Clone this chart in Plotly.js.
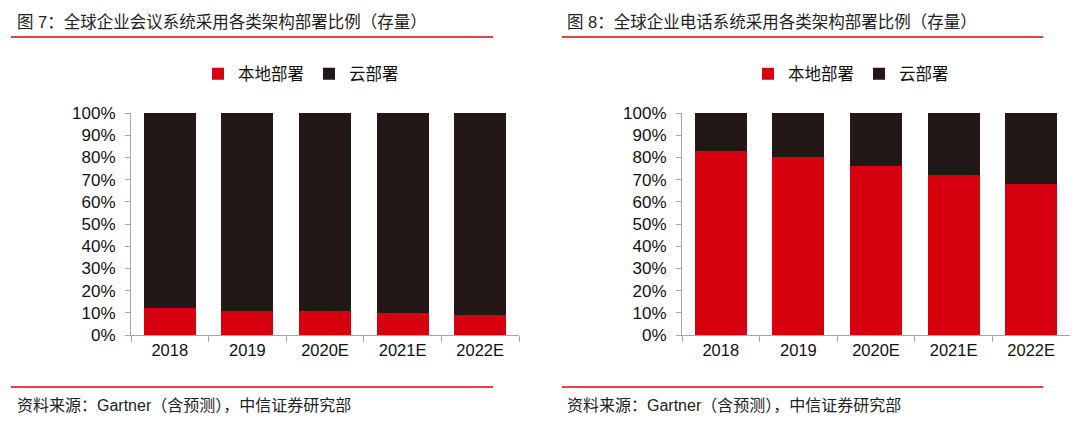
<!DOCTYPE html>
<html><head><meta charset="utf-8">
<script src="https://cdn.plot.ly/plotly-3.0.1.min.js"></script>
<style>html,body{margin:0;padding:0;background:#fff}#c{width:1080px;height:422px}</style>
</head><body><div id="c"></div>
<script>
const years = ['2018','2019','2020E','2021E','2022E'];
const confLocal = [12, 11, 11, 10, 9];
const confCloud = [88, 89, 89, 90, 91];
const phoneLocal = [83, 80, 76, 72, 68];
const phoneCloud = [17, 20, 24, 28, 32];
const seriesNames = ['本地部署', '云部署'];
const title1 = '图 7：全球企业会议系统采用各类架构部署比例（存量）';
const title2 = '图 8：全球企业电话系统采用各类架构部署比例（存量）';
const source = '资料来源：Gartner（含预测），中信证券研究部';

const RED = '#D7000F', DARK = '#231815';
const W = 1080, H = 422;
const px = v => v / W, py = v => 1 - v / H;
const cjk = '"Liberation Sans", Arial, "Noto Sans CJK SC", sans-serif';

const traces = [
  {type:'bar', x:years, y:confLocal, name:seriesNames[0], marker:{color:RED}, xaxis:'x', yaxis:'y', legend:'legend'},
  {type:'bar', x:years, y:confCloud, name:seriesNames[1], marker:{color:DARK}, xaxis:'x', yaxis:'y', legend:'legend'},
  {type:'bar', x:years, y:phoneLocal, name:seriesNames[0], marker:{color:RED}, xaxis:'x2', yaxis:'y2', legend:'legend2'},
  {type:'bar', x:years, y:phoneCloud, name:seriesNames[1], marker:{color:DARK}, xaxis:'x2', yaxis:'y2', legend:'legend2'}
];

const yBase = {range:[0,100], tickvals:[0,10,20,30,40,50,60,70,80,90,100], ticktext:['0%','10%','20%','30%','40%','50%','60%','70%','80%','90%','100%'],
  showline:true, linecolor:'#A6A6A6', linewidth:1, ticks:'outside', ticklen:5, tickcolor:'#A6A6A6', showgrid:false, zeroline:false,
  ticklabelstandoff:6, tickfont:{size:17, color:'#111', family:cjk}, domain:[py(335), py(113)], fixedrange:true};
const xBase = {type:'category', showline:true, linecolor:'#A6A6A6', linewidth:1, ticks:'outside', tickson:'boundaries', ticklen:6, tickcolor:'#A6A6A6',
  showgrid:false, tickfont:{size:16.5, color:'#111', family:cjk}, fixedrange:true};

const legBase = {orientation:'h', traceorder:'normal', yanchor:'middle', xanchor:'left', font:{size:16.5, color:'#111', family:cjk}, bgcolor:'rgba(0,0,0,0)', itemwidth:30, tracegroupgap:0};

const layout = {
  width:W, height:H, margin:{l:0,r:0,t:0,b:0}, paper_bgcolor:'#fff', plot_bgcolor:'#fff',
  barmode:'stack', bargap:0.33, showlegend:true,
  xaxis:Object.assign({}, xBase, {domain:[px(131), px(519)], anchor:'y'}),
  yaxis:Object.assign({}, yBase, {anchor:'x'}),
  xaxis2:Object.assign({}, xBase, {domain:[px(682), px(1070)], anchor:'y2'}),
  yaxis2:Object.assign({}, yBase, {anchor:'x2'}),
  legend:Object.assign({}, legBase, {x:px(198), y:py(74)}),
  legend2:Object.assign({}, legBase, {x:px(748), y:py(74)}),
  annotations:[
    {text:title1, xref:'paper', yref:'paper', x:px(15), y:py(22), xanchor:'left', yanchor:'middle', showarrow:false, font:{size:16.5, color:'#222', family:cjk}},
    {text:title2, xref:'paper', yref:'paper', x:px(565), y:py(22), xanchor:'left', yanchor:'middle', showarrow:false, font:{size:16.5, color:'#222', family:cjk}},
    {text:source, xref:'paper', yref:'paper', x:px(15), y:py(405), xanchor:'left', yanchor:'middle', showarrow:false, font:{size:16, color:'#222', family:cjk}},
    {text:source, xref:'paper', yref:'paper', x:px(565), y:py(405), xanchor:'left', yanchor:'middle', showarrow:false, font:{size:16, color:'#222', family:cjk}}
  ],
  shapes:[
    {type:'line', xref:'paper', yref:'paper', x0:px(11), x1:px(493), y0:py(37), y1:py(37), line:{color:'#D7000F', width:1.5}},
    {type:'line', xref:'paper', yref:'paper', x0:px(562), x1:px(1043), y0:py(37), y1:py(37), line:{color:'#D7000F', width:1.5}},
    {type:'line', xref:'paper', yref:'paper', x0:px(11), x1:px(493), y0:py(387), y1:py(387), line:{color:'#D7000F', width:1.5}},
    {type:'line', xref:'paper', yref:'paper', x0:px(562), x1:px(1043), y0:py(387), y1:py(387), line:{color:'#D7000F', width:1.5}}
  ]
};
Plotly.newPlot('c', traces, layout, {displayModeBar:false, staticPlot:true});
</script></body></html>
